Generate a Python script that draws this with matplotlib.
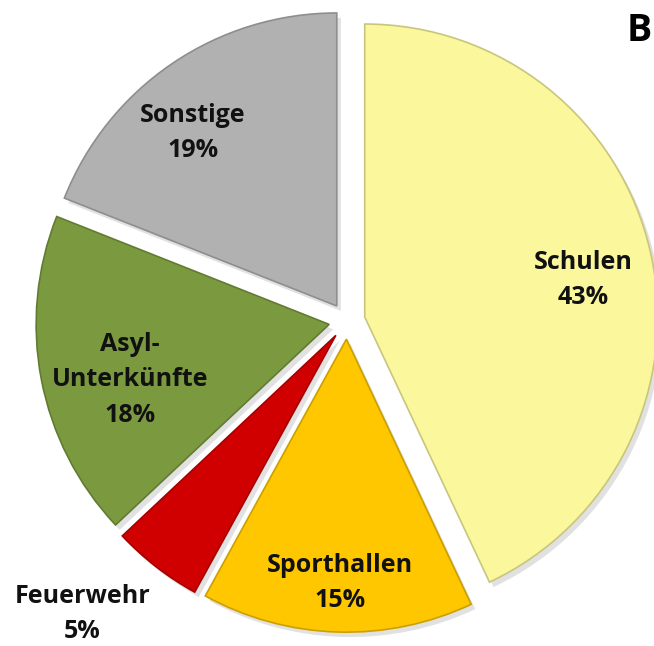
import numpy as np
import matplotlib.pyplot as plt
import matplotlib.colors as mcolors

# values (clockwise from 12 o'clock)
labels = ['Schulen', 'Sporthallen', 'Feuerwehr', 'Asyl-\nUnterkünfte', 'Sonstige']
values = [43, 15, 5, 18, 19]
colors = ['#FAF79C', '#FFC700', '#D00000', '#7B9A3F', '#B1B1B1']

# where the label text sits (data coords, radius 1 pie)
label_pos = [(0.805, 0.140), (-0.024, -0.894), (-0.904, -1.000),
             (-0.741, -0.201), (-0.526, 0.642)]

plt.rcParams['font.family'] = ['Open Sans', 'DejaVu Sans']

fig = plt.figure(figsize=(6.54, 6.46), dpi=100)
ax = fig.add_axes([0, 0, 1, 1])

edge = [tuple(np.array(mcolors.to_rgb(c)) * 0.8) for c in colors]
wedges, _ = ax.pie(values, colors=colors, startangle=90, counterclock=False,
                   explode=[0.062] * len(values), radius=1,
                   wedgeprops=dict(linewidth=1.2),
                   shadow=dict(ox=0.01, oy=-0.012, facecolor='#777777',
                               edgecolor='none', alpha=0.22))
for w, ec in zip(wedges, edge):
    w.set_edgecolor(ec)

for lab, v, (x, y) in zip(labels, values, label_pos):
    ax.text(x, y, f'{lab}\n{v}%', ha='center', va='center', fontsize=18,
            fontweight='bold', linespacing=1.55, color='#111111')

ax.text(0.955, 0.99, 'B', ha='left', va='center', fontsize=27,
        fontweight='bold', color='black')

ax.set_xlim(-347 / 293, (654 - 347) / 293)
ax.set_ylim(-(646 - 321) / 293, 321 / 293)
ax.set_aspect('equal')
ax.axis('off')

fig.savefig('out.png', dpi=100)
